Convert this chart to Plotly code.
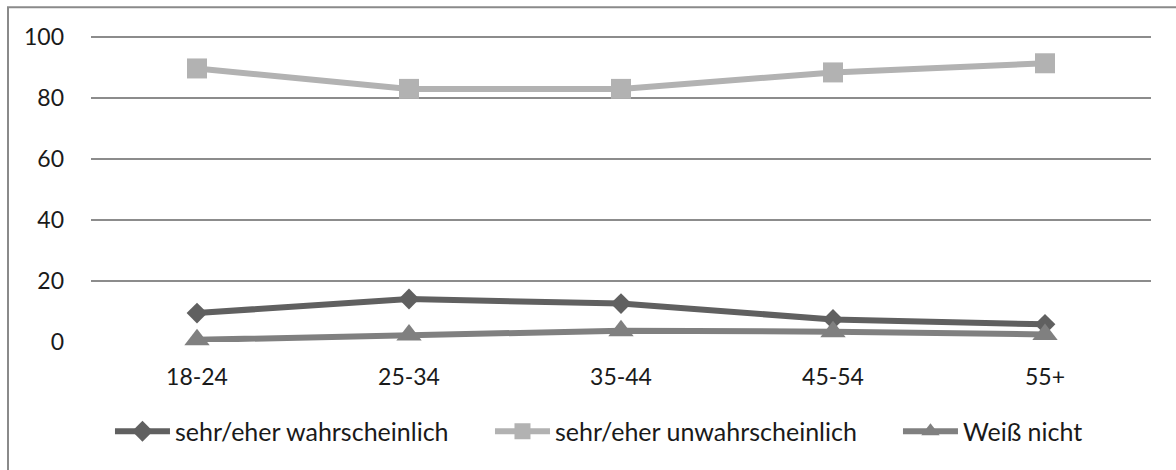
import plotly.graph_objects as go

categories = ["18-24", "25-34", "35-44", "45-54", "55+"]
wahrscheinlich = [9.5, 14.1, 12.6, 7.4, 5.8]
unwahrscheinlich = [89.7, 83.0, 83.0, 88.4, 91.4]
weiss_nicht = [0.7, 2.3, 3.7, 3.4, 2.5]
y_ticks = [0, 20, 40, 60, 80, 100]

FONT = "Lato, Liberation Sans Narrow, sans-serif"

fig = go.Figure()
fig.add_trace(go.Scatter(
    x=categories, y=wahrscheinlich, name="sehr/eher wahrscheinlich",
    mode="lines+markers", line=dict(color="#606060", width=6),
    marker=dict(symbol="diamond", size=16, color="#606060"), cliponaxis=False,
    legend="legend"))
fig.add_trace(go.Scatter(
    x=categories, y=unwahrscheinlich, name="sehr/eher unwahrscheinlich",
    mode="lines+markers", line=dict(color="#b2b2b2", width=6),
    marker=dict(symbol="square", size=20, color="#b2b2b2"), cliponaxis=False,
    legend="legend2"))
fig.add_trace(go.Scatter(
    x=categories, y=weiss_nicht, name="Weiß nicht",
    mode="lines+markers", line=dict(color="#808080", width=6),
    marker=dict(symbol="triangle-up", size=22, color="#808080"), cliponaxis=False,
    legend="legend3"))

leg_common = dict(orientation="h", xanchor="left", y=-0.2906, yanchor="middle",
                  font=dict(size=25), itemwidth=55, bgcolor="rgba(0,0,0,0)")

fig.update_layout(
    width=1176, height=470,
    margin=dict(l=91, r=25, t=33.6, b=127.7, autoexpand=False),
    paper_bgcolor="white", plot_bgcolor="white",
    font=dict(family=FONT, size=23, color="#1a1a1a"),
    showlegend=True,
    legend=dict(x=0.0179, **leg_common),
    legend2=dict(x=0.3764, **leg_common),
    legend3=dict(x=0.7613, **leg_common),
    shapes=[dict(type="rect", xref="paper", yref="paper",
                 x0=-0.0783, x1=1.03, y0=-0.5, y1=1.0871,
                 line=dict(color="#8a8a8a", width=2), fillcolor="rgba(0,0,0,0)",
                 layer="below")],
)
fig.update_xaxes(type="category", range=[-0.5, 4.5], showgrid=False,
                 zeroline=False, showline=False, ticks="", automargin=False,
                 ticklabelstandoff=19, tickfont=dict(size=23))
fig.update_yaxes(range=[0, 101], tickvals=y_ticks, showgrid=True,
                 gridcolor="#8c8c8c", gridwidth=1.5, zeroline=False,
                 showline=False, ticks="", ticklabelstandoff=26, automargin=False,
                 tickfont=dict(size=23))

fig.write_html("out.html", config={"displayModeBar": False},
               post_script="document.body.style.margin='0';")
